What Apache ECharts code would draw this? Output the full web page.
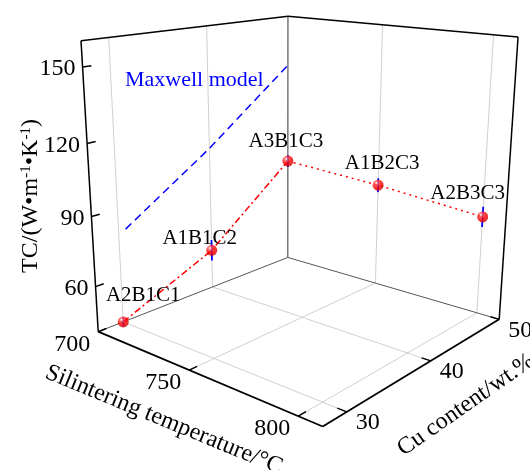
<!DOCTYPE html>
<html lang="en">
<head>
<meta charset="UTF-8">
<title>TC vs sintering temperature and Cu content</title>
<style>
  body { margin: 0; overflow: hidden; background: #fff; }
  #chart { width: 530px; height: 470px; }
</style>
</head>
<body>
<div id="chart"></div>
<script src="https://cdn.jsdelivr.net/npm/echarts@6.0.0/dist/echarts.min.js"></script>
<script>
// ---- data ----
var names = ['A2B1C1', 'A1B1C2', 'A3B1C3', 'A1B2C3', 'A2B3C3'];
var temps = [700, 700, 700, 750, 800];
var cuContents = [30, 40, 50, 50, 50];
var tcValues = [40, 58, 90, 87.7, 83.7];
var tcErrors = [2, 5, 3, 3.3, 4.5];
var maxwellCu = [30.7, 40, 50];
var maxwellTc = [80.5, 106, 137];
var tempTicks = [700, 750, 800];
var cuTicks = [30, 40, 50];
var tcTicks = [60, 90, 120, 150];

// axis ranges of the 3D box
var tRange = [700, 810], cuRange = [27.5, 50], tcRange = [40, 160];

// ---- perspective camera, calibrated on the box corners (u,v,w -> screen) ----
var boxCorners = [
  [0, 0, 0, 98, 331], [1, 0, 0, 323, 427], [1, 1, 0, 499, 319], [0, 1, 0, 288, 258],
  [0, 0, 1, 81, 41], [0, 1, 1, 288, 16], [1, 1, 1, 518, 37]
];

function solveCamera(pts) {
  var A = [], b = [];
  pts.forEach(function (p) {
    var u = p[0], v = p[1], w = p[2], x = p[3] / 100, y = p[4] / 100;
    A.push([u, v, w, 1, 0, 0, 0, 0, -x * u, -x * v, -x * w]); b.push(x);
    A.push([0, 0, 0, 0, u, v, w, 1, -y * u, -y * v, -y * w]); b.push(y);
  });
  var n = 11, M = [];
  for (var i = 0; i < n; i++) {
    M.push([]);
    for (var j = 0; j <= n; j++) {
      var s = 0;
      for (var k = 0; k < A.length; k++) s += A[k][i] * (j < n ? A[k][j] : b[k]);
      M[i].push(s);
    }
  }
  for (var c = 0; c < n; c++) {
    var piv = c;
    for (var r = c + 1; r < n; r++) if (Math.abs(M[r][c]) > Math.abs(M[piv][c])) piv = r;
    var tmp = M[c]; M[c] = M[piv]; M[piv] = tmp;
    for (r = 0; r < n; r++) {
      if (r === c) continue;
      var f = M[r][c] / M[c][c];
      for (j = c; j <= n; j++) M[r][j] -= f * M[c][j];
    }
  }
  return M.map(function (row, i) { return row[n] / row[i]; });
}
var cam = solveCamera(boxCorners);

function project(T, Cu, TC) {
  var u = (T - tRange[0]) / (tRange[1] - tRange[0]);
  var v = (Cu - cuRange[0]) / (cuRange[1] - cuRange[0]);
  var w = (TC - tcRange[0]) / (tcRange[1] - tcRange[0]);
  var d = cam[8] * u + cam[9] * v + cam[10] * w + 1;
  return [
    (cam[0] * u + cam[1] * v + cam[2] * w + cam[3]) / d * 100,
    (cam[4] * u + cam[5] * v + cam[6] * w + cam[7]) / d * 100
  ];
}

var FONT = '"Liberation Serif", "Times New Roman", serif';
var gridColor = '#c4c4c4';
var labelOffsets = [[20, -26], [-12, -12], [-2, -20], [4, -22], [-15, -23]];

// frame: walls, floor grid, axes, ticks, tick labels
function renderFrame(params, api) {
  var kids = [];
  var t0 = tRange[0], t1 = tRange[1], c0 = cuRange[0], c1 = cuRange[1], z0 = tcRange[0], z1 = tcRange[1];
  function pt(p) { return api.coord(project(p[0], p[1], p[2])); }
  function seg(a, b, stroke, width) {
    var p1 = pt(a), p2 = pt(b);
    kids.push({ type: 'line', shape: { x1: p1[0], y1: p1[1], x2: p2[0], y2: p2[1] },
      style: { stroke: stroke, lineWidth: width } });
  }
  function txt(text, p, dx, dy, align) {
    var q = pt(p);
    kids.push({ type: 'text', x: q[0] + dx, y: q[1] + dy,
      style: { text: text, font: '24px ' + FONT, fill: '#000', align: align || 'center', verticalAlign: 'middle' } });
  }
  // grid lines
  tempTicks.forEach(function (t) {
    if (t <= t0 || t >= t1) return;
    seg([t, c0, z0], [t, c1, z0], gridColor, 0.8);
    seg([t, c1, z0], [t, c1, z1], gridColor, 0.8);
  });
  cuTicks.forEach(function (c) {
    if (c <= c0 || c >= c1) return;
    seg([t0, c, z0], [t1, c, z0], gridColor, 0.8);
    seg([t0, c, z0], [t0, c, z1], gridColor, 0.8);
  });
  // back floor edges
  seg([t0, c0, z0], [t0, c1, z0], '#555', 1);
  seg([t0, c1, z0], [t1, c1, z0], '#555', 1);
  // wall edges
  seg([t0, c1, z0], [t0, c1, z1], '#333', 1);
  seg([t0, c0, z0], [t0, c0, z1], '#000', 1.5);
  seg([t1, c1, z0], [t1, c1, z1], '#000', 1.5);
  seg([t0, c0, z1], [t0, c1, z1], '#000', 1.5);
  seg([t0, c1, z1], [t1, c1, z1], '#000', 1.5);
  // front axes
  seg([t0, c0, z0], [t1, c0, z0], '#000', 1.8);
  seg([t1, c0, z0], [t1, c1, z0], '#000', 1.8);
  // ticks and labels
  var dc = 0.035 * (c1 - c0), dt = 0.035 * (t1 - t0);
  tempTicks.forEach(function (t) {
    seg([t, c0, z0], [t, c0 + dc, z0], '#000', 1.5);
    txt(String(t), [t, c0, z0], -26, 13);
  });
  cuTicks.forEach(function (c) {
    seg([t1, c, z0], [t1 - dt, c, z0], '#000', 1.5);
    txt(String(c), [t1, c, z0], 21, 11);
  });
  tcTicks.forEach(function (z) {
    seg([t0, c0, z], [t0, c0 + dc, z], '#000', 1.5);
    txt(String(z), [t0, c0, z], -7, 2, 'right');
  });
  return { type: 'group', children: kids };
}

function renderErrors(params, api) {
  var i = params.dataIndex;
  var lo = api.coord(project(temps[i], cuContents[i], tcValues[i] - tcErrors[i]));
  var hi = api.coord(project(temps[i], cuContents[i], tcValues[i] + tcErrors[i]));
  return { type: 'line', shape: { x1: lo[0], y1: lo[1], x2: hi[0], y2: hi[1] },
    style: { stroke: '#0000ff', lineWidth: 1.8 } };
}

function renderNames(params, api) {
  var i = params.dataIndex;
  var p = api.coord(project(temps[i], cuContents[i], tcValues[i]));
  return { type: 'text', x: p[0] + labelOffsets[i][0], y: p[1] + labelOffsets[i][1],
    style: { text: names[i], font: '21px ' + FONT, fill: '#000', align: 'center', verticalAlign: 'middle' } };
}

var pts = names.map(function (n, i) { return project(temps[i], cuContents[i], tcValues[i]); });
var maxwellPts = maxwellCu.map(function (c, i) { return project(tRange[0], c, maxwellTc[i]); });

var sphere = new echarts.graphic.RadialGradient(0.35, 0.3, 0.75, [
  { offset: 0, color: '#ffffff' },
  { offset: 0.22, color: '#ff5050' },
  { offset: 0.55, color: '#ff0000' },
  { offset: 1, color: '#cc0000' }
]);

var myChart = echarts.init(document.getElementById('chart'));
var option = {
  animation: false,
  grid: { left: 0, right: 0, top: 0, bottom: 0 },
  xAxis: { type: 'value', min: 0, max: 530, show: false },
  yAxis: { type: 'value', min: 0, max: 470, inverse: true, show: false },
  graphic: [
    { type: 'text', x: 164, y: 420, rotation: -0.39, z: 10,
      style: { text: 'Silintering temperature/°C', font: '24px ' + FONT, fill: '#000', align: 'center', verticalAlign: 'middle' } },
    { type: 'text', x: 466, y: 405, rotation: 0.61, z: 10,
      style: { text: 'Cu content/wt.%', font: '24px ' + FONT, fill: '#000', align: 'center', verticalAlign: 'middle' } },
    { type: 'text', x: 31, y: 196, rotation: Math.PI / 2, z: 10,
      style: { text: 'TC/(W•m{s|-1}•K{s|-1})', font: '24px ' + FONT, fill: '#000', align: 'center', verticalAlign: 'middle',
        rich: { s: { font: '15px ' + FONT, padding: [0, 0, 10, 0] } } } },
    { type: 'text', x: 125, y: 80, z: 10,
      style: { text: 'Maxwell model', font: '22px ' + FONT, fill: '#0000ff', align: 'left', verticalAlign: 'middle' } }
  ],
  series: [
    { name: 'frame', type: 'custom', renderItem: renderFrame, data: [0], z: 1, silent: true },
    { name: 'Maxwell model', type: 'line', data: maxwellPts, symbol: 'none', z: 2,
      lineStyle: { color: '#0000ff', width: 1.5, type: [8, 5] } },
    { name: 'C series', type: 'line', data: pts.slice(0, 3), symbol: 'none', z: 2,
      lineStyle: { color: '#ff0000', width: 1.5, type: [7, 3, 2, 3] } },
    { name: 'T series', type: 'line', data: pts.slice(2), symbol: 'none', z: 2,
      lineStyle: { color: '#ff0000', width: 1.5, type: [2, 4] } },
    { name: 'error', type: 'custom', renderItem: renderErrors, data: names.map(function (n, i) { return [i]; }), z: 3 },
    { name: 'samples', type: 'scatter', z: 4, symbolSize: 11, itemStyle: { color: sphere }, data: pts },
    { name: 'names', type: 'custom', renderItem: renderNames, data: names.map(function (n, i) { return [i]; }), z: 5, silent: true }
  ]
};
myChart.setOption(option);
</script>
</body>
</html>
